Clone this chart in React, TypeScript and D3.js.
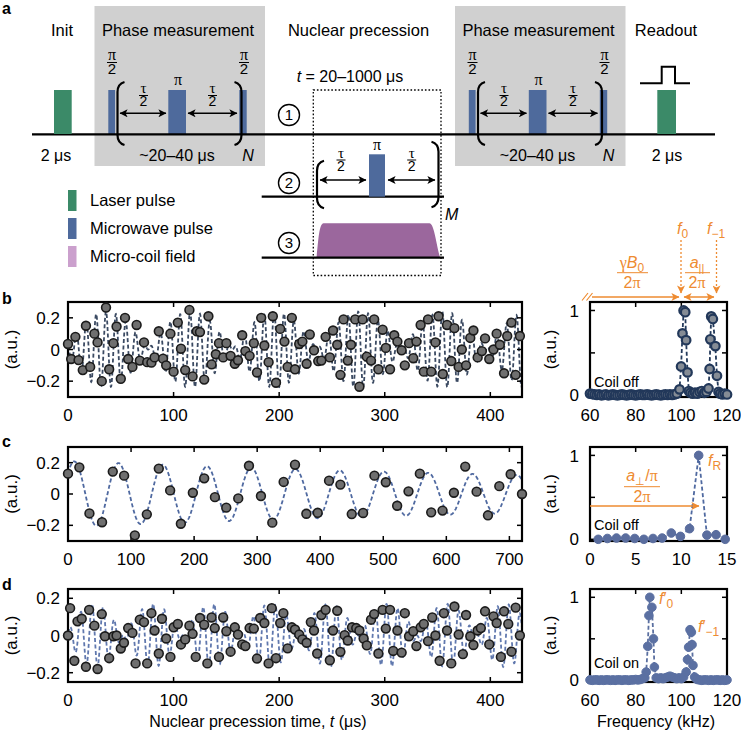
import React from "react";
import * as d3 from "d3";

const SANS = "'Liberation Sans', Arial, Helvetica, sans-serif";
const SERIF = "'Liberation Serif', 'DejaVu Serif', serif";
const ORANGE = "#ee8b31";
const GREEN = "#3b8a68";
const BLUE = "#4e6a9c";
const PURPLE = "#9b679d";
const PINK = "#cba0cd";
const GRAY = "#d0d0d0";

// left (time) and right (spectrum) plot columns
const LX0 = 68, LX1 = 522;
const RX0 = 590, RX1 = 727;

// ---- panel b: time trace, coil off ----
const bTimes = [0, 3, 7, 10, 14, 17, 21, 25, 28, 32, 36, 39, 43, 46, 50, 54, 57, 61, 65, 68, 72, 75, 79, 82, 86, 90, 93, 97, 100, 104, 107, 111, 115, 118, 122, 125, 129, 133, 136, 140, 143, 147, 150, 154, 158, 161, 165, 168, 172, 176, 179, 183, 186, 190, 194, 197, 201, 205, 208, 212, 215, 219, 222, 226, 229, 233, 237, 240, 244, 248, 251, 255, 258, 261, 265, 268, 272, 276, 279, 283, 287, 290, 294, 298, 301, 305, 309, 312, 316, 319, 323, 327, 330, 334, 337, 341, 344, 348, 351, 355, 359, 363, 366, 370, 373, 377, 381, 384, 388, 392, 395, 399, 403, 406, 409, 413, 416, 420, 424, 428];
const bValues = [0.035, -0.06, 0.08, -0.067, -0.13, 0.15, -0.11, 0.1, 0.045, -0.2, 0.265, -0.125, 0.04, 0.145, -0.185, 0.2, -0.06, -0.11, 0.155, -0.07, 0.045, -0.08, -0.083, -0.05, 0.115, -0.058, -0.1, 0.1, -0.14, 0.17, 0.005, -0.13, 0.25, -0.17, 0.115, 0.11, -0.19, 0.21, -0.094, -0.03, 0.04, -0.05, 0.04, -0.04, -0.09, -0.068, 0.09, -0.01, -0.04, 0.04, -0.145, 0.2, 0.025, -0.08, 0.21, -0.21, 0.13, 0.05, -0.11, 0.2, -0.125, 0.035, 0.05, -0.09, 0.095, -0.005, -0.073, -0.07, 0.08, -0.05, 0.12, 0.03, -0.16, 0.19, -0.07, 0.03, 0.19, -0.235, 0.19, -0.045, -0.07, 0.19, -0.125, 0.125, 0.01, -0.125, 0.09, 0.05, -0.005, -0.1, 0.04, -0.055, 0.05, 0.155, -0.14, 0.19, -0.14, 0.045, 0.21, -0.155, 0.155, -0.073, 0.135, -0.11, 0.0, -0.1, 0.073, 0.12, -0.05, -0.01, 0.07, -0.06, 0.0, 0.1, 0.03, -0.15, 0.085, 0.17, -0.16, 0.085];
// fitted two-line model (freq in MHz, t in µs)
const bFitFreq = [0.1005, 0.113];
const bFitAmp = [0.12, 0.12];
const bFitPhase = [2.4, -0.43];

// ---- panel c: time trace, resonant drive ----
const cTimes = [0, 18, 34, 54, 71, 89, 106, 125, 144, 162, 179, 198, 216, 233, 251, 270, 287, 306, 324, 342, 360, 378, 396, 414, 432, 450, 468, 486, 504, 522, 540, 558, 576, 594, 612, 630, 648, 666, 684, 702, 720];
const cValues = [0.13, 0.17, -0.124, -0.18, 0.143, 0.117, -0.264, -0.13, 0.162, 0.023, -0.19, 0.008, 0.1, -0.02, -0.087, -0.028, 0.18, -0.013, -0.183, 0.077, 0.187, -0.126, -0.12, 0.085, 0.06, -0.128, -0.121, 0.117, 0.075, -0.075, 0.017, 0.13, -0.117, -0.106, 0.008, 0.175, 0.015, -0.136, 0.05, 0.126, 0.0];
// fitted damped cosine: [amplitude, decay (µs), freq (MHz), phase]
const cFitParams = [0.21, 1300, 0.01425, -0.895];

// ---- panel d: time trace, coil on ----
const dTimes = [0, 2, 6, 9, 13, 17, 20, 25, 28, 32, 35, 39, 43, 46, 50, 53, 57, 61, 64, 68, 72, 75, 79, 82, 86, 89, 93, 97, 100, 104, 107, 111, 115, 118, 121, 125, 129, 132, 136, 139, 143, 147, 150, 154, 158, 161, 165, 168, 172, 176, 179, 182, 186, 190, 193, 197, 201, 204, 208, 212, 215, 219, 222, 226, 230, 233, 236, 240, 244, 248, 251, 255, 258, 262, 265, 269, 273, 276, 280, 283, 287, 290, 294, 298, 301, 305, 308, 312, 316, 319, 323, 327, 330, 334, 337, 341, 345, 348, 352, 356, 359, 363, 366, 370, 374, 377, 381, 384, 388, 391, 395, 399, 403, 406, 410, 413, 417, 420, 424, 428];
const dValues = [0, 0.147, -0.136, 0.076, 0.09, -0.168, 0.138, 0.053, -0.18, 0.115, -0.004, -0.122, -0.004, 0, -0.07, -0.039, 0.04, 0.014, -0.15, 0.085, 0.072, -0.15, 0.12, 0.027, -0.097, 0.09, -0.016, -0.115, 0.044, 0.062, -0.048, -0.021, 0.053, 0.009, -0.115, 0.094, 0.058, -0.15, 0.097, 0.04, -0.115, 0.097, 0.023, -0.087, 0.044, 0.005, -0.048, -0.057, 0.04, 0.037, -0.124, 0.094, 0.067, -0.15, 0.147, -0.122, 0.067, 0.12, -0.069, 0.044, 0.032, 0.005, -0.021, -0.039, 0.072, 0.027, -0.097, 0.11, 0.138, -0.133, 0.027, 0.133, -0.088, 0.002, -0.027, 0.044, 0.04, 0.027, -0.016, -0.053, 0.085, 0.115, -0.097, 0.138, 0.037, 0.138, -0.083, 0.027, -0.092, 0.12, -0.004, 0.023, -0.057, 0.044, 0.062, -0.03, 0.097, 0, -0.136, 0.12, 0.027, -0.15, 0.156, 0.005, -0.1, 0.11, -0.004, -0.051, 0.027, 0.04, 0.13, -0.048, 0.103, 0.067, -0.115, 0.13, 0.062, -0.087, 0.15, 0.0];
const dFitFreq = [0.086, 0.104];
const dFitAmp = [0.085, 0.085];
const dFitPhase = [0.41, -2.42];

// ---- spectra (frequency in kHz, normalised amplitude) ----
const bFreqs = [60, 61, 62, 63, 64, 65, 66, 67, 68, 69, 70, 71, 72, 73, 74, 75, 76, 77, 78, 79, 80, 81, 82, 83, 84, 85, 86, 87, 88, 89, 90, 91, 92, 93, 94, 95, 96, 97, 98, 99.2, 99.9, 100.5, 101.0, 101.7, 102.1, 102.7, 103.3, 104, 105, 106, 107, 108, 109, 110, 111, 111.9, 112.4, 112.7, 113.1, 113.8, 114.9, 115.6, 116.3, 117, 118, 119, 120];
const bAmps = [0.02, 0.015, 0.01, 0.005, 0.01, 0.0, 0.005, 0.01, 0.0, 0.005, 0.01, 0.005, 0.0, 0.005, 0.01, 0.005, 0.0, 0.005, 0.01, 0.005, 0.0, 0.005, 0.01, 0.005, 0.005, 0.01, 0.005, 0.0, 0.005, 0.01, 0.005, 0.0, 0.005, 0.01, 0.005, 0.01, 0.005, 0.01, 0.02, 0.07, 0.34, 0.73, 1.0, 0.98, 0.65, 0.27, 0.05, 0.03, 0.02, 0.03, 0.02, 0.04, 0.05, 0.03, 0.04, 0.08, 0.31, 0.66, 0.93, 0.9, 0.58, 0.23, 0.04, 0.02, 0.01, 0.02, 0.01];
const cFreqs = [0.9, 1.9, 2.9, 3.9, 4.9, 5.9, 6.9, 7.9, 8.9, 9.9, 10.9, 11.9, 12.8, 13.8, 14.8];
const cAmps = [0, 0.01, 0.015, 0.015, 0.01, 0, 0.01, 0.015, 0.075, 0.035, 0.127, 1.0, 0.05, 0.055, 0];
const dFreqs = [60, 61, 62, 63, 64, 65, 66, 67, 68, 69, 70, 71, 72, 73, 74, 75, 76, 77, 78, 79, 80, 81, 82, 83, 84.0, 84.6, 85.3, 85.8, 86.2, 87.1, 87.8, 88.2, 89, 90, 91, 92, 93, 94, 95, 96, 97, 98, 99, 100, 101, 102.1, 102.7, 103.2, 103.8, 104.4, 104.7, 105.1, 105.8, 106.5, 107, 108, 109, 110, 111, 112, 113, 114, 115, 116, 117, 118, 119, 120];
const dAmps = [0.005, 0.0, 0.005, 0.005, 0.0, 0.005, 0.0, 0.005, 0.005, 0.0, 0.005, 0.0, 0.005, 0.005, 0.0, 0.005, 0.005, 0.0, 0.005, 0.005, 0.01, 0.005, 0.01, 0.02, 0.03, 0.1, 0.41, 0.78, 1.0, 0.88, 0.5, 0.16, 0.03, 0.02, 0.03, 0.02, 0.03, 0.04, 0.05, 0.04, 0.03, 0.02, 0.03, 0.02, 0.04, 0.1, 0.25, 0.4, 0.61, 0.58, 0.43, 0.18, 0.04, 0.02, 0.01, 0.005, 0.0, 0.005, 0.005, 0.0, 0.005, 0.0, 0.005, 0.005, 0.0, 0.005, 0.0, 0.005];

const twoLine = (f: number[], a: number[], p: number[]) => (t: number) =>
  a[0] * Math.cos(2 * Math.PI * f[0] * t + p[0]) + a[1] * Math.cos(2 * Math.PI * f[1] * t + p[1]);
const damped = ([a, tau, f, p]: number[]) => (t: number) =>
  a * Math.exp(-t / tau) * Math.cos(2 * Math.PI * f * t + p);

const fmt = (v: number) => (v < 0 ? "\u2212" + Math.abs(v) : String(v));

function TimeTrace({ id, top, bottom, xMax, yMax, xTicks, yTicks, times, values, fit, lineColor }) {
  const x = d3.scaleLinear().domain([0, xMax]).range([LX0, LX1]);
  const y = d3.scaleLinear().domain([-yMax, yMax]).range([bottom, top]);
  const grid = d3.range(0, xMax + 0.2, xMax > 600 ? 1 : 0.2);
  const line = d3.line<number>().x((t) => x(t)).y((t) => y(fit(t)));
  return (
    <g fontFamily={SANS} fontSize={17}>
      <clipPath id={id}>
        <rect x={LX0} y={top} width={LX1 - LX0} height={bottom - top} />
      </clipPath>
      <path d={line(grid) || ""} fill="none" stroke={lineColor} strokeWidth={1.8}
        strokeDasharray="4 2.5" clipPath={`url(#${id})`} />
      {xTicks.map((t) => (
        <g key={"x" + t}>
          <line x1={x(t)} x2={x(t)} y1={bottom} y2={bottom - 5} stroke="#000" strokeWidth={1.5} />
          <line x1={x(t)} x2={x(t)} y1={top} y2={top + 5} stroke="#000" strokeWidth={1.5} />
          <text x={x(t)} y={bottom + 24} textAnchor="middle">{t}</text>
        </g>
      ))}
      {yTicks.map((v) => (
        <g key={"y" + v}>
          <line x1={LX0} x2={LX0 + 5} y1={y(v)} y2={y(v)} stroke="#000" strokeWidth={1.5} />
          <line x1={LX1} x2={LX1 - 5} y1={y(v)} y2={y(v)} stroke="#000" strokeWidth={1.5} />
          <text x={60} y={y(v)} dy="0.36em" textAnchor="end">{fmt(v)}</text>
        </g>
      ))}
      <rect x={LX0} y={top} width={LX1 - LX0} height={bottom - top} fill="none" stroke="#000" strokeWidth={2.2} />
      {times.map((t, i) => (
        <circle key={i} cx={x(t)} cy={y(values[i])} r={4.4} fill="#6f6f6f" stroke="#1b1b1b" strokeWidth={1.6} />
      ))}
      <text transform={`translate(17,${(top + bottom) / 2}) rotate(-90)`} textAnchor="middle">(a.u.)</text>
    </g>
  );
}

function Spectrum({ top, bottom, xDom, xTicks, freqs, amps, lineColor, fill, stroke, sw }) {
  const x = d3.scaleLinear().domain(xDom).range([RX0, RX1]);
  const y = d3.scaleLinear().domain([-0.02, 1.1]).range([bottom, top]);
  const line = d3.line<number>().x((f) => x(f)).y((_, i) => y(amps[i]));
  return (
    <g fontFamily={SANS} fontSize={17}>
      <path d={line(freqs) || ""} fill="none" stroke={lineColor} strokeWidth={1.8} strokeDasharray="4 2.5" />
      {xTicks.map((t) => (
        <g key={"x" + t}>
          <line x1={x(t)} x2={x(t)} y1={bottom} y2={bottom - 5} stroke="#000" strokeWidth={1.5} />
          <line x1={x(t)} x2={x(t)} y1={top} y2={top + 5} stroke="#000" strokeWidth={1.5} />
          <text x={x(t)} y={bottom + 24} textAnchor="middle">{t}</text>
        </g>
      ))}
      {[0, 0.5, 1].map((v) => (
        <g key={"y" + v}>
          <line x1={RX0} x2={RX0 + 5} y1={y(v)} y2={y(v)} stroke="#000" strokeWidth={1.5} />
          <line x1={RX1} x2={RX1 - 5} y1={y(v)} y2={y(v)} stroke="#000" strokeWidth={1.5} />
          {v !== 0.5 && <text x={579} y={y(v)} dy="0.36em" textAnchor="end">{v}</text>}
        </g>
      ))}
      <rect x={RX0} y={top} width={RX1 - RX0} height={bottom - top} fill="none" stroke="#000" strokeWidth={2.2} />
      {freqs.map((f, i) => (
        <circle key={i} cx={x(f)} cy={y(amps[i])} r={4.3} fill={fill} stroke={stroke} strokeWidth={sw} />
      ))}
      <text transform={`translate(556,${(top + bottom) / 2}) rotate(-90)`} textAnchor="middle">(a.u.)</text>
    </g>
  );
}

function Frac({ x, bar, num, den, w, nfs = 16, dfs = 15, color = "#000", numFont = SERIF }) {
  return (
    <g fill={color}>
      <text x={x} y={bar - 2.5} textAnchor="middle" fontFamily={numFont} fontSize={nfs}>{num}</text>
      <line x1={x - w / 2} x2={x + w / 2} y1={bar} y2={bar} stroke={color} strokeWidth={1} />
      <text x={x} y={bar + dfs * 0.78} textAnchor="middle" fontFamily={SANS} fontSize={dfs}>{den}</text>
    </g>
  );
}

const openBr = (x: number, y0: number, y1: number) =>
  `M${x + 7},${y0} Q${x},${y0 + 2} ${x},${y0 + 10} L${x},${y1 - 10} Q${x},${y1 - 2} ${x + 7},${y1}`;
const closeBr = (x: number, y0: number, y1: number) =>
  `M${x - 7},${y0} Q${x},${y0 + 2} ${x},${y0 + 10} L${x},${y1 - 10} Q${x},${y1 - 2} ${x - 7},${y1}`;

function PhaseBlock({ dx }) {
  return (
    <g transform={`translate(${dx},0)`}>
      <rect x={94.5} y={6} width={170.5} height={160} fill={GRAY} />
      <text x={178} y={36} textAnchor="middle" fontSize={16.5}>Phase measurement</text>
      <rect x={108.3} y={90} width={6.8} height={44} fill={BLUE} />
      <rect x={168.3} y={90} width={17.7} height={44} fill={BLUE} />
      <rect x={239.3} y={90} width={7.4} height={44} fill={BLUE} />
      <Frac x={112} bar={62.5} num="π" den="2" w={10} />
      <Frac x={244} bar={62.5} num="π" den="2" w={10} />
      <text x={178} y={85} textAnchor="middle" fontFamily={SERIF} fontSize={16}>π</text>
      <path d={openBr(117.5, 82, 145)} fill="none" stroke="#000" strokeWidth={2.2} />
      <path d={closeBr(241.5, 82, 145)} fill="none" stroke="#000" strokeWidth={2.2} />
      <line x1={120} x2={166} y1={113.3} y2={113.3} stroke="#000" strokeWidth={1.5}
        markerStart="url(#ah)" markerEnd="url(#ah)" />
      <line x1={188} x2={237} y1={113.3} y2={113.3} stroke="#000" strokeWidth={1.5}
        markerStart="url(#ah)" markerEnd="url(#ah)" />
      <Frac x={143.5} bar={95.5} num="τ" den="2" w={9} nfs={15} dfs={14} />
      <Frac x={212.5} bar={95.5} num="τ" den="2" w={9} nfs={15} dfs={14} />
      <text x={177} y={161} textAnchor="middle" fontSize={16}>~20–40 μs</text>
      <text x={248} y={161} textAnchor="middle" fontSize={16} fontStyle="italic">N</text>
    </g>
  );
}

function Circled({ cx, cy, n }) {
  return (
    <g>
      <circle cx={cx} cy={cy} r={10.5} fill="#fff" stroke="#000" strokeWidth={1.4} />
      <text x={cx} y={cy} dy="0.36em" textAnchor="middle" fontSize={15}>{n}</text>
    </g>
  );
}

function Schematic() {
  return (
    <g fontFamily={SANS} fontSize={16.5}>
      <PhaseBlock dx={0} />
      <PhaseBlock dx={360.5} />
      <line x1={32} x2={715} y1={134.3} y2={134.3} stroke="#000" strokeWidth={2.3} />

      <text x={62} y={36} textAnchor="middle">Init</text>
      <rect x={54} y={90} width={17.7} height={44} fill={GREEN} />
      <text x={56} y={161} textAnchor="middle" fontSize={16}>2 μs</text>

      <text x={358.5} y={36} textAnchor="middle">Nuclear precession</text>
      <text x={350} y={81.5} textAnchor="middle" fontSize={16}>
        <tspan fontStyle="italic">t</tspan> = 20–1000 μs
      </text>
      <rect x={313.3} y={90} width={127.7} height={185.5} fill="none" stroke="#000"
        strokeWidth={1.3} strokeDasharray="1.6 2" />

      <text x={666} y={36} textAnchor="middle">Readout</text>
      <path d="M640,83.3 L661.7,83.3 L661.7,66.7 L675,66.7 L675,83.3 L690,83.3" fill="none" stroke="#000" strokeWidth={2} />
      <rect x={657.3} y={90} width={18.7} height={44} fill={GREEN} />
      <text x={667} y={161} textAnchor="middle" fontSize={16}>2 μs</text>

      <Circled cx={289} cy={115} n="1" />
      <Circled cx={289} cy={183} n="2" />
      <Circled cx={289} cy={243} n="3" />

      {/* sequence 2 */}
      <line x1={261.7} x2={444} y1={196.7} y2={196.7} stroke="#000" strokeWidth={2.3} />
      <rect x={369} y={154.3} width={16} height={42.4} fill={BLUE} />
      <text x={377} y={150} textAnchor="middle" fontFamily={SERIF} fontSize={16}>π</text>
      <path d={openBr(317, 160.7, 208.3)} fill="none" stroke="#000" strokeWidth={2.2} />
      <path d={closeBr(438.5, 141.7, 207.3)} fill="none" stroke="#000" strokeWidth={2.2} />
      <line x1={320} x2={366} y1={180} y2={180} stroke="#000" strokeWidth={1.5}
        markerStart="url(#ah)" markerEnd="url(#ah)" />
      <line x1={388} x2={435} y1={180} y2={180} stroke="#000" strokeWidth={1.5}
        markerStart="url(#ah)" markerEnd="url(#ah)" />
      <Frac x={341} bar={160} num="τ" den="2" w={9} nfs={15} dfs={14} />
      <Frac x={411.7} bar={160} num="τ" den="2" w={9} nfs={15} dfs={14} />
      <text x={451.7} y={220} textAnchor="middle" fontSize={16} fontStyle="italic">M</text>

      {/* sequence 3 */}
      <path d="M316.5,257.7 C318.5,240 319,224 323.5,223.3 L429.5,223.3 C434,224 435.5,240 440,257.7 Z" fill={PURPLE} />
      <line x1={261.7} x2={444} y1={257.7} y2={257.7} stroke="#000" strokeWidth={2.3} />

      {/* legend */}
      <rect x={68} y={190} width={8.5} height={21} fill={GREEN} />
      <rect x={68} y={218} width={8.5} height={21} fill={BLUE} />
      <rect x={68} y={246} width={8.5} height={21} fill={PINK} />
      <text x={90} y={206}>Laser pulse</text>
      <text x={90} y={234}>Microwave pulse</text>
      <text x={90} y={262}>Micro-coil field</text>
    </g>
  );
}

export default function App() {
  const bFit = twoLine(bFitFreq, bFitAmp, bFitPhase);
  const cFit = damped(cFitParams);
  const dFit = twoLine(dFitFreq, dFitAmp, dFitPhase);
  return (
    <svg width={741} height={733} style={{ position: "absolute", left: 0, top: 0, background: "#fff" }}>
      <defs>
        <marker id="ah" viewBox="0 0 10 10" refX={9.5} refY={5} markerWidth={9} markerHeight={8}
          markerUnits="userSpaceOnUse" orient="auto-start-reverse">
          <path d="M0,0 L10,5 L0,10 L2.5,5 Z" fill="#000" />
        </marker>
        <marker id="aho" viewBox="0 0 10 10" refX={9.5} refY={5} markerWidth={9} markerHeight={8}
          markerUnits="userSpaceOnUse" orient="auto-start-reverse">
          <path d="M0,0 L10,5 L0,10 L2.5,5 Z" fill={ORANGE} />
        </marker>
      </defs>

      <g fontFamily={SANS} fontWeight="bold" fontSize={16}>
        <text x={2} y={14}>a</text>
        <text x={2} y={304}>b</text>
        <text x={2} y={447}>c</text>
        <text x={2} y={590}>d</text>
      </g>

      <Schematic />

      <TimeTrace id="clipb" top={302} bottom={397} xMax={430} yMax={0.3} xTicks={[0, 100, 200, 300, 400]}
        yTicks={[0.2, 0, -0.2]} times={bTimes} values={bValues} fit={bFit} lineColor="#3b4a62" />
      <TimeTrace id="clipc" top={447} bottom={541} xMax={720} yMax={0.3} xTicks={[0, 100, 200, 300, 400, 500, 600, 700]}
        yTicks={[0.2, 0, -0.2]} times={cTimes} values={cValues} fit={cFit} lineColor="#4f69a0" />
      <TimeTrace id="clipd" top={589} bottom={682} xMax={430} yMax={0.25} xTicks={[0, 100, 200, 300, 400]}
        yTicks={[0.2, 0, -0.2]} times={dTimes} values={dValues} fit={dFit} lineColor="#6078ae" />

      <Spectrum top={302} bottom={397} xDom={[60, 120]} xTicks={[60, 80, 100, 120]} freqs={bFreqs} amps={bAmps}
        lineColor="#23395a" fill="#858c95" stroke="#22385a" sw={2.2} />
      <Spectrum top={447} bottom={541} xDom={[0, 15]} xTicks={[0, 5, 10, 15]} freqs={cFreqs} amps={cAmps}
        lineColor="#4f69a0" fill="#5a6d9e" stroke="#5a6d9e" sw={1} />
      <Spectrum top={589} bottom={682} xDom={[60, 120]} xTicks={[60, 80, 100, 120]} freqs={dFreqs} amps={dAmps}
        lineColor="#5a6fa0" fill="#5b70a2" stroke="#5b70a2" sw={1} />

      <g fontFamily={SANS} fontSize={16}>
        <text x={258} y={727} textAnchor="middle">
          Nuclear precession time, <tspan fontStyle="italic">t</tspan> (μs)
        </text>
        <text x={656} y={727} textAnchor="middle">Frequency (kHz)</text>
        <text x={594} y={387} fontSize={14.5}>Coil off</text>
        <text x={594} y={530} fontSize={14.5}>Coil off</text>
        <text x={594} y={668} fontSize={14.5}>Coil on</text>
      </g>

      {/* orange annotations */}
      <g fontFamily={SANS} fontSize={16} fill={ORANGE}>
        <text x={677} y={234}><tspan fontStyle="italic">f</tspan><tspan dy={4} fontSize={12}>0</tspan></text>
        <text x={707} y={234}><tspan fontStyle="italic">f</tspan><tspan dy={4} fontSize={12}>−1</tspan></text>
        <line x1={681} x2={681} y1={240} y2={293} stroke={ORANGE} strokeWidth={1.3} strokeDasharray="2 2" markerEnd="url(#aho)" />
        <line x1={716.5} x2={716.5} y1={240} y2={293} stroke={ORANGE} strokeWidth={1.3} strokeDasharray="2 2" markerEnd="url(#aho)" />
        <line x1={592} x2={679} y1={297} y2={297} stroke={ORANGE} strokeWidth={1.5} markerEnd="url(#aho)" />
        <path d="M582,300.5 L588,293 M586.5,300.5 L592.5,293" stroke={ORANGE} strokeWidth={1.2} fill="none" />
        <line x1={684} x2={714} y1={297} y2={297} stroke={ORANGE} strokeWidth={1.5} markerStart="url(#aho)" markerEnd="url(#aho)" />
        <text x={632} y={268} textAnchor="middle">
          <tspan fontFamily={SERIF}>γ</tspan><tspan fontStyle="italic">B</tspan><tspan dy={4} fontSize={12}>0</tspan>
        </text>
        <line x1={617} x2={648} y1={272.7} y2={272.7} stroke={ORANGE} strokeWidth={1} />
        <text x={632} y={288} textAnchor="middle">2<tspan fontFamily={SERIF}>π</tspan></text>
        <text x={697} y={268} textAnchor="middle">
          <tspan fontStyle="italic">a</tspan><tspan dy={4} fontSize={11}>||</tspan>
        </text>
        <line x1={685} x2={710} y1={272.7} y2={272.7} stroke={ORANGE} strokeWidth={1} />
        <text x={697} y={288} textAnchor="middle">2<tspan fontFamily={SERIF}>π</tspan></text>

        <text x={708} y={466}><tspan fontStyle="italic">f</tspan><tspan dy={4} fontSize={12}>R</tspan></text>
        <text x={642} y={481} textAnchor="middle">
          <tspan fontStyle="italic">a</tspan><tspan dy={4} fontSize={11}>⊥</tspan><tspan dy={-4}>/</tspan><tspan fontFamily={SERIF}>π</tspan>
        </text>
        <line x1={624} x2={660} y1={486.7} y2={486.7} stroke={ORANGE} strokeWidth={1} />
        <text x={642} y={502} textAnchor="middle">2<tspan fontFamily={SERIF}>π</tspan></text>
        <line x1={590} x2={699} y1={506} y2={506} stroke={ORANGE} strokeWidth={1.5} markerEnd="url(#aho)" />

        <text x={659} y={604}><tspan fontStyle="italic">f</tspan>′<tspan dy={4} fontSize={12}>0</tspan></text>
        <text x={698} y={632}><tspan fontStyle="italic">f</tspan>′<tspan dy={4} fontSize={12}>−1</tspan></text>
      </g>
    </svg>
  );
}
